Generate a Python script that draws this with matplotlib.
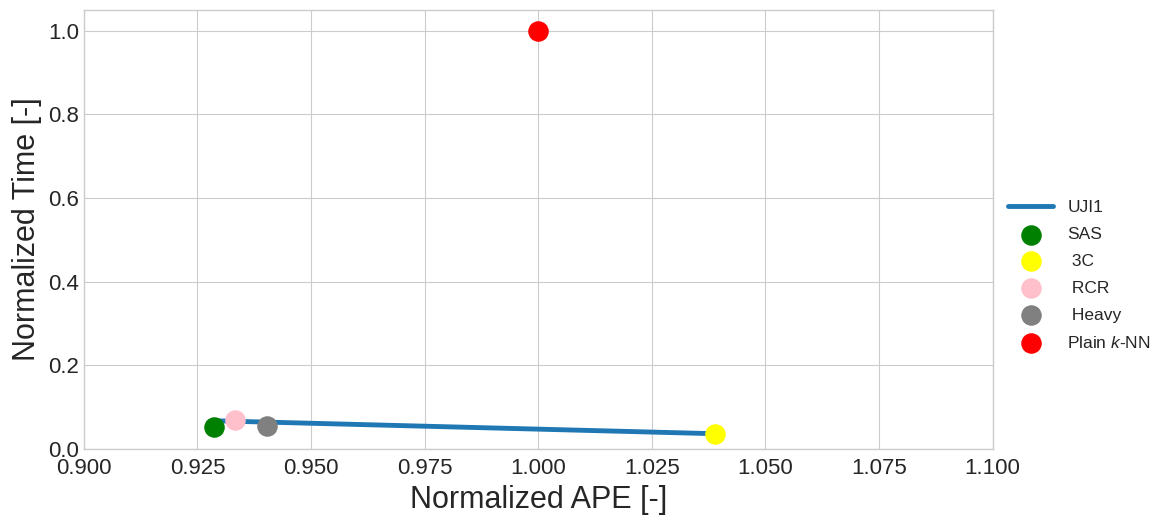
import matplotlib
matplotlib.use('Agg')
import matplotlib.pyplot as plt

plt.style.use('seaborn-v0_8-whitegrid')
plt.rcParams['font.family'] = ['Liberation Sans', 'DejaVu Sans']
plt.rcParams['mathtext.fontset'] = 'custom'
plt.rcParams['mathtext.it'] = 'Liberation Sans:italic'

# UJI1 trade-off line
line_x = [0.9286, 1.0388]
line_y = [0.067, 0.036]

# methods (normalized APE, normalized time)
names = ['SAS', ' 3C', ' RCR', ' Heavy', 'Plain $k$-NN']
ape = [0.9286, 1.0388, 0.9332, 0.9403, 1.0]
times = [0.0525, 0.036, 0.069, 0.055, 1.0]
colors = ['green', 'yellow', 'pink', 'grey', 'red']

fig = plt.figure(figsize=(11.65, 5.17), dpi=100)
ax = fig.add_axes([0.072, 0.132, 0.78, 0.849])
ax.plot(line_x, line_y, color='#1f77b4', linewidth=3.5, label='UJI1')
for n, x, y, c in zip(names, ape, times, colors):
    ax.scatter(x, y, s=190, color=c, label=n, zorder=3)

ax.set_xlim(0.9, 1.1)
ax.set_ylim(0.0, 1.05)
ax.set_xticks([0.9 + 0.025 * i for i in range(9)])
ax.set_yticks([0.0, 0.2, 0.4, 0.6, 0.8, 1.0])
ax.xaxis.set_major_formatter(matplotlib.ticker.FormatStrFormatter('%.3f'))
ax.yaxis.set_major_formatter(matplotlib.ticker.FormatStrFormatter('%.1f'))
ax.tick_params(labelsize=16)
ax.tick_params(axis='x', pad=7)
ax.set_xlabel('Normalized APE [-]', fontsize=22, labelpad=4)
ax.set_ylabel('Normalized Time [-]', fontsize=22)
for s in ax.spines.values():
    s.set_visible(True)
    s.set_color('#cccccc')
ax.grid(True, color='#cccccc', linewidth=0.8)
ax.legend(loc='center left', bbox_to_anchor=(1.0, 0.395), fontsize=12.5,
          frameon=False, labelspacing=0.68, handlelength=2.6)

fig.savefig('out.png', dpi=100)
